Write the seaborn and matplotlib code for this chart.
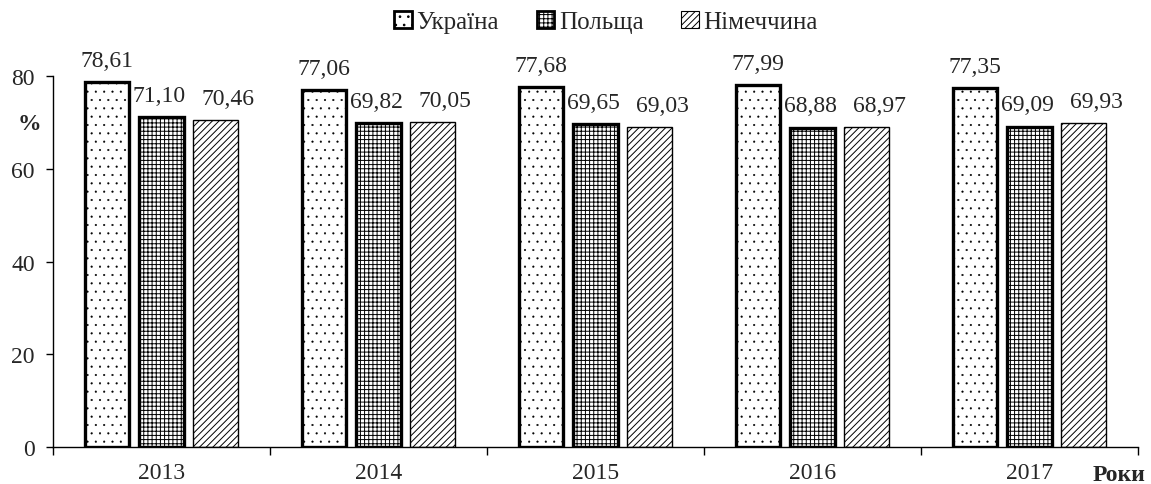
import matplotlib
matplotlib.use("Agg")
import matplotlib.pyplot as plt
import seaborn as sns
import pandas as pd
from matplotlib.patches import Patch

years = ["2013", "2014", "2015", "2016", "2017"]
countries = ["Україна", "Польща", "Німеччина"]
ukraine = [78.61, 77.06, 77.68, 77.99, 77.35]
poland = [71.10, 69.82, 69.65, 68.88, 69.09]
germany = [70.46, 70.05, 69.03, 68.97, 69.93]
yticks = [0, 20, 40, 60, 80]

rows = []
for c, vals in zip(countries, [ukraine, poland, germany]):
    for y, v in zip(years, vals):
        rows.append({"year": y, "country": c, "value": v})
df = pd.DataFrame(rows)

sns.set_theme(style="white")
plt.rcParams['font.family'] = ['Liberation Serif', 'DejaVu Serif']
plt.rcParams['hatch.linewidth'] = 0.7

FS = 17

fig = plt.figure(figsize=(11.51, 4.85), dpi=100)
ax = fig.add_axes([0.046, 0.0763, 0.9427, 0.7649])

sns.barplot(data=df, x="year", y="value", hue="country", order=years,
            hue_order=countries, width=0.75, gap=0.18,
            palette=["white"] * 3, edgecolor="black", ax=ax, legend=False)

hatches = ["..", "++++", "/////"]
hatch_colors = ["#777777", "black", "black"]
lws = [2.4, 2.4, 1.0]
label_dx = [0, -1.5, 9]
PAD = 8
for i, cont in enumerate(ax.containers):
    for bar in cont:
        bar.set_hatch(hatches[i])
        bar.set_linewidth(lws[i])
        bar.set_edgecolor("black")
        if hasattr(bar, "set_hatchcolor"):
            bar.set_hatchcolor(hatch_colors[i])
        if i == 0 and hasattr(bar, "set_hatch_linewidth"):
            bar.set_hatch_linewidth(0.3)
    labels = [f"{v:.2f}".replace(".", ",") for v in cont.datavalues]
    anns = ax.bar_label(cont, labels=labels, padding=PAD, fontsize=FS, clip_on=False)
    for a in anns:
        a.xyann = (label_dx[i], PAD)

ax.set_ylim(0, 80)
ax.set_xlim(-0.5, 4.5)
ax.set_yticks(yticks)
ax.set_yticklabels([str(t) for t in yticks], fontsize=FS)
ax.tick_params(axis="y", direction="out", length=5, width=1, color="black", left=True, pad=8)
ax.set_xticks(range(len(years)))
ax.set_xticklabels(years, fontsize=FS)
ax.tick_params(axis="x", which="major", length=0, pad=11)
ax.set_xticks([i - 0.5 for i in range(len(years) + 1)], minor=True)
ax.tick_params(axis="x", which="minor", direction="out", length=6, width=1, color="black", bottom=True)
ax.set_xlabel("")
ax.set_ylabel("")
for s in ["top", "right"]:
    ax.spines[s].set_visible(False)
for s in ["left", "bottom"]:
    ax.spines[s].set_color("black")
    ax.spines[s].set_linewidth(1)

fig.text(29 / 1151, 1 - 125 / 485, "%", fontsize=FS, fontweight="bold", ha="center", va="center")
fig.text(1119 / 1151, 1 - 476 / 485, "Роки", fontsize=FS, fontweight="bold", ha="center", va="center")

handles = [Patch(facecolor="white", edgecolor="black", hatch=h, linewidth=lw)
           for h, lw in zip(["..", "++++", "/////"], [2.0, 2.0, 0.8])]
if hasattr(handles[0], "set_hatchcolor"):
    handles[0].set_hatchcolor("#777777")
fig.legend(handles, countries, loc="center", bbox_to_anchor=(606 / 1151, 1 - 23 / 485),
           ncol=3, frameon=False, fontsize=18, handlelength=0.7, handleheight=0.7,
           handletextpad=0.2, columnspacing=1.5, borderpad=0)

fig.savefig("out.png", dpi=100)
